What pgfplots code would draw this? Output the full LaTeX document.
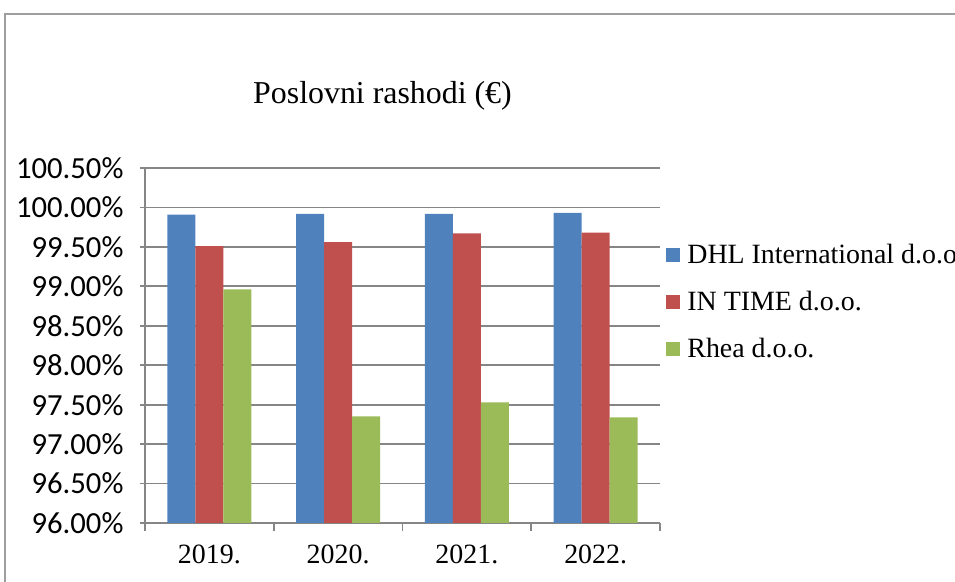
\documentclass[border=0pt]{standalone}
\usepackage{pgfplots}
\pgfplotsset{compat=1.18}
\usepackage{fontspec}
\setmainfont{Liberation Serif}
\newfontfamily\carlito{Carlito}
\definecolor{cblue}{HTML}{4F81BD}
\definecolor{cred}{HTML}{C0504D}
\definecolor{cgreen}{HTML}{9BBB59}
\definecolor{axgray}{HTML}{868686}
\begin{document}
\begin{tikzpicture}
\path[use as bounding box] (0,0) rectangle (477.5bp,291bp);
\draw[color=axgray!80, line width=0.8bp] (2.5bp,0) -- (2.5bp,284bp) -- (480bp,284bp);
\node[font=\fontsize{16}{19}\selectfont] at (191.25bp,243bp) {Poslovni rashodi (€)};
\begin{axis}[
  at={(72.5bp,29.5bp)}, anchor=south west,
  scale only axis, width=257.5bp, height=177.5bp,
  ybar=0pt, bar width=14bp,
  xmin=-0.5, xmax=3.5, ymin=96, ymax=100.5,
  axis lines*=left,
  axis line style={draw=axgray, line width=0.9bp},
  ymajorgrids, grid style={draw=axgray, line width=0.9bp},
  ytick={96,96.5,97,97.5,98,98.5,99,99.5,100,100.5},
  yticklabel={\pgfmathprintnumber[fixed,fixed zerofill,precision=2]{\tick}\%},
  /pgf/number format/assume math mode=true,
  yticklabel style={font=\carlito\fontsize{15.4}{18}\selectfont, xshift=-3bp},
  xtick={-0.5,0.5,1.5,2.5,3.5},
  x tick label as interval,
  xticklabels={2019.,2020.,2021.,2022.},
  xticklabel style={font=\fontsize{14}{17}\selectfont, yshift=-3bp},
  tick align=outside,
  x tick style={draw=axgray, line width=0.9bp, /pgfplots/major tick length=4bp},
  y tick style={draw=axgray, line width=0.9bp, /pgfplots/major tick length=2.5bp},
  legend style={draw=none, fill=none, at={(1,0.6225)}, anchor=west, xshift=3bp,
    inner xsep=0pt, inner ysep=0pt, row sep=8.25bp,
    font=\fontsize{14}{17}\selectfont,
    nodes={inner xsep=3.5bp}},
  legend cell align=left,
  legend image code/.code={\fill[#1] (0bp,-3.5bp) rectangle (7bp,3.5bp);},
]
\addplot[fill=cblue, draw=none] coordinates {(0,99.91) (1,99.92) (2,99.92) (3,99.93)};
\addplot[fill=cred, draw=none] coordinates {(0,99.51) (1,99.56) (2,99.67) (3,99.68)};
\addplot[fill=cgreen, draw=none] coordinates {(0,98.96) (1,97.35) (2,97.53) (3,97.34)};
\legend{DHL International d.o.o.,IN TIME d.o.o.,Rhea d.o.o.}
\end{axis}
\end{tikzpicture}
\end{document}
